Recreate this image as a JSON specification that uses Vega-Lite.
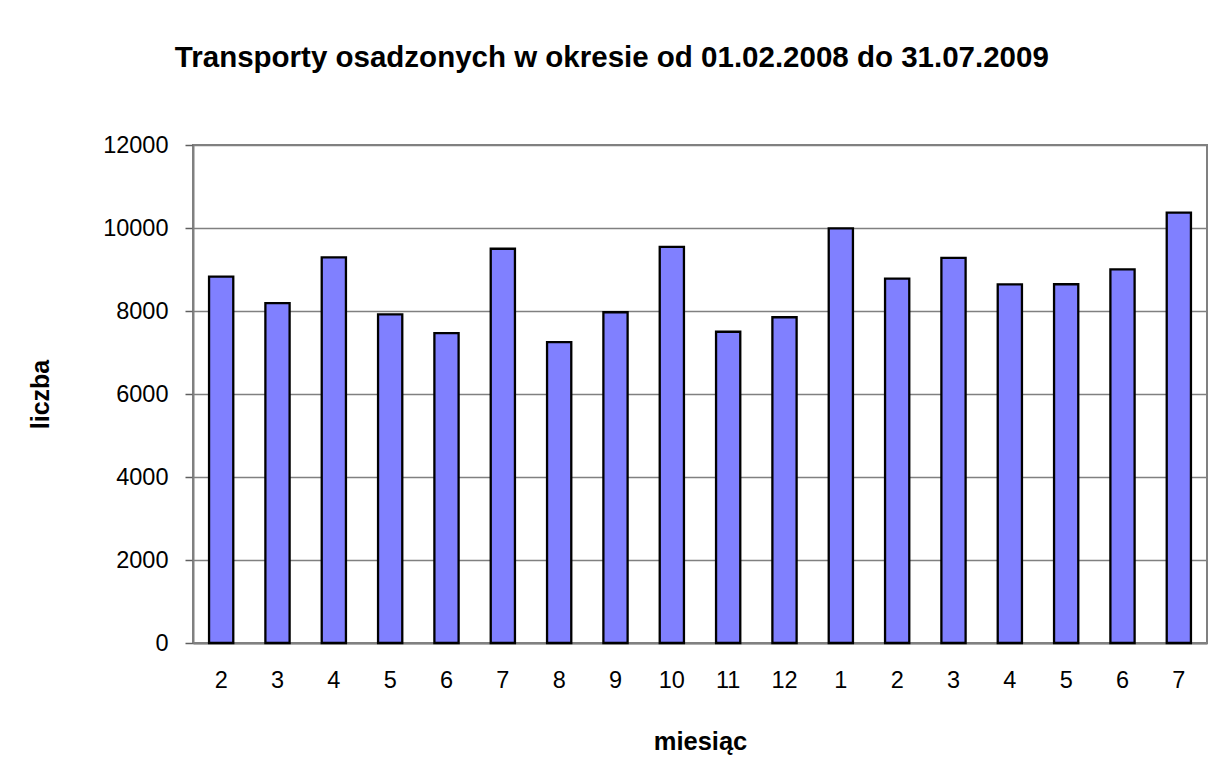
{
  "$schema": "https://vega.github.io/schema/vega-lite/v6.json",
  "width": 1014,
  "height": 498,
  "autosize": {"type": "none"},
  "padding": {"left": 193, "top": 145, "right": 14, "bottom": 123},
  "background": "white",
  "title": {
    "text": "Transporty osadzonych w okresie od 01.02.2008 do 31.07.2009",
    "font": "Liberation Sans",
    "fontSize": 29.5,
    "fontWeight": "bold",
    "color": "black",
    "anchor": "middle",
    "frame": "bounds",
    "offset": 60,
    "dx": -6
  },
  "data": {
    "values": [
      {"okres": "2008-02", "liczba": 8830},
      {"okres": "2008-03", "liczba": 8190},
      {"okres": "2008-04", "liczba": 9290},
      {"okres": "2008-05", "liczba": 7920},
      {"okres": "2008-06", "liczba": 7465},
      {"okres": "2008-07", "liczba": 9500},
      {"okres": "2008-08", "liczba": 7250},
      {"okres": "2008-09", "liczba": 7970},
      {"okres": "2008-10", "liczba": 9545},
      {"okres": "2008-11", "liczba": 7500},
      {"okres": "2008-12", "liczba": 7850},
      {"okres": "2009-01", "liczba": 9990},
      {"okres": "2009-02", "liczba": 8780},
      {"okres": "2009-03", "liczba": 9280},
      {"okres": "2009-04", "liczba": 8640},
      {"okres": "2009-05", "liczba": 8645},
      {"okres": "2009-06", "liczba": 9005},
      {"okres": "2009-07", "liczba": 10370}
    ]
  },
  "mark": {"type": "bar", "fill": "#8080FF", "stroke": "black", "strokeWidth": 2.3},
  "encoding": {
    "x": {
      "field": "okres",
      "type": "ordinal",
      "sort": null,
      "scale": {"paddingInner": 0.57, "paddingOuter": 0.285},
      "axis": {
        "title": "miesiąc",
        "labelExpr": "toNumber(slice(datum.value, 5))",
        "labelAngle": 0,
        "ticks": false,
        "domain": true,
        "domainColor": "#808080",
        "domainWidth": 2,
        "labelPadding": 25,
        "labelFont": "Liberation Sans",
        "labelFontSize": 23.5,
        "labelColor": "black",
        "titleFont": "Liberation Sans",
        "titleFontSize": 25.5,
        "titleFontWeight": "bold",
        "titleColor": "black",
        "titlePadding": 38
      }
    },
    "y": {
      "field": "liczba",
      "type": "quantitative",
      "scale": {"domain": [0, 12000], "nice": false},
      "axis": {
        "title": "liczba",
        "values": [0, 2000, 4000, 6000, 8000, 10000, 12000],
        "format": "d",
        "grid": true,
        "gridColor": "#808080",
        "gridWidth": 1.5,
        "gridOpacity": 1,
        "domainColor": "#808080",
        "domainWidth": 2,
        "tickColor": "#606060",
        "tickSize": 8,
        "tickWidth": 1.5,
        "labelPadding": 17,
        "labelFont": "Liberation Sans",
        "labelFontSize": 23.5,
        "labelColor": "black",
        "titleFont": "Liberation Sans",
        "titleFontSize": 25,
        "titleFontWeight": "bold",
        "titleColor": "black",
        "titlePadding": 49
      }
    }
  },
  "config": {
    "view": {"stroke": "#808080", "strokeWidth": 2}
  }
}
